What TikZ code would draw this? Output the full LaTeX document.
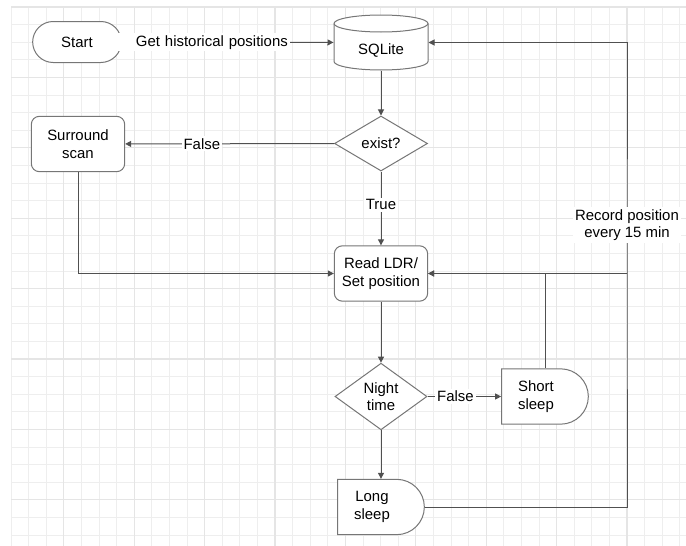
\documentclass[tikz,border=0pt]{standalone}
\usepackage{fontspec}
\setmainfont{Liberation Sans}
\usetikzlibrary{shapes.geometric,shapes.misc,arrows.meta}

\definecolor{gridminor}{RGB}{238,238,238}
\definecolor{gridmajor}{RGB}{229,229,229}
\definecolor{edgegray}{RGB}{80,80,80}
\definecolor{boxgray}{RGB}{118,118,118}

\tikzset{every picture/.style={line width=0.75pt}}
\tikzset{
  box/.style={draw=boxgray, fill=white, align=center, inner sep=2pt},
  terminal/.style={box, rounded rectangle, minimum width=70.5pt, minimum height=30.75pt},
  database/.style={rectangle, inner sep=0pt, minimum width=70.5pt, minimum height=41.25pt, text height=19.5pt, text depth=1.8pt},
  decision/.style={box, diamond, inner sep=0pt},
  process/.style={box, rectangle, rounded corners=6pt, minimum width=70pt, minimum height=41.5pt},
  delaybox/.style={box, rounded rectangle, rounded rectangle left arc=none, minimum width=69pt, minimum height=41.5pt},
  delaytext/.style={xshift=-6.75pt, align=center},
  conn/.style={draw=edgegray, -{Triangle[length=4.5pt,width=4.5pt]}},
  wire/.style={draw=edgegray},
  lbl/.style={fill=white, inner sep=1.5pt, align=center}
}

\begin{document}
\begin{tikzpicture}[x=0.75pt,y=0.75pt,yscale=-1,xscale=1,font=\fontsize{11.2}{13.2}\selectfont]
\useasboundingbox (0,0) rectangle (686,546);

%Grid
\foreach \i in {0,...,38} \draw[gridminor] ({11+17.6*\i},7) -- ({11+17.6*\i},546);
\foreach \j in {0,...,30} \draw[gridminor] (11,{7+17.6*\j}) -- (686,{7+17.6*\j});
\foreach \i in {3,7,...,35} \draw[gridmajor, line width=1pt] ({11+17.6*\i},7) -- ({11+17.6*\i},546);
\foreach \j in {0,4,...,28} \draw[gridmajor, line width=1pt] (11,{7+17.6*\j}) -- (686,{7+17.6*\j});

%Shape: Can
\draw[draw=boxgray, fill=white] (334,23.5) -- (334,61.5) arc[start angle=180, end angle=0, x radius=47, y radius=8.5] -- (428,23.5) arc[start angle=0, end angle=-180, x radius=47, y radius=8.5] -- cycle;
\draw[draw=boxgray] (334,23.5) arc[start angle=180, end angle=0, x radius=47, y radius=8.5];

%Shape: Terminator
\node[terminal] (start) at (77,42) {Start};
% Text Node
\node[database] (sqlite) at (381,42.5) {SQLite};
%Shape: Diamond
\node[decision, minimum width=69.75pt, minimum height=41.25pt] (exist) at (381,143.5) {exist?};
%Shape: Rounded Rectangle
\node[process] (surround) at (78,144) {Surround\\scan};
%Shape: Rounded Rectangle
\node[process] (read) at (381,273.5) {Read LDR/\\Set position};
%Shape: Diamond
\node[decision, minimum width=69pt, minimum height=50pt] (night) at (381,396.5) {Night\\time};
%Shape: Delay
\node[delaybox, label={[delaytext]center:{Short\\sleep}}] (short) at (545,396.5) {};
%Shape: Delay
\node[delaybox, label={[delaytext]center:{Long\\sleep}}] (long) at (381,507) {};

\coordinate (join) at (627,273.5);
\coordinate (rec) at (627,42.5);

%Straight Lines
\draw[conn] (start) -- node[lbl, pos=0.796, anchor=east, text width=128pt, align=right] {Get historical positions} (sqlite);
\draw[conn] (sqlite) -- (exist);
\draw[conn] (exist) -- node[lbl, pos=0.633] {False} (surround);
\draw[conn] (exist) -- node[lbl, pos=0.45] {True} (read);
\draw[conn] (surround) |- (read);
\draw[conn] (read) -- (night);
\draw[conn] (night) -- node[lbl, pos=0.38] {False} (short);
\draw[conn] (short) |- (read);
\draw[conn] (night) -- (long);
\draw[conn] (long) -| (join) -- node[lbl, pos=0.21] {Record position\\every 15 min} (rec) -- (sqlite);
\draw[conn] (join) -- (read);

\end{tikzpicture}
\end{document}
